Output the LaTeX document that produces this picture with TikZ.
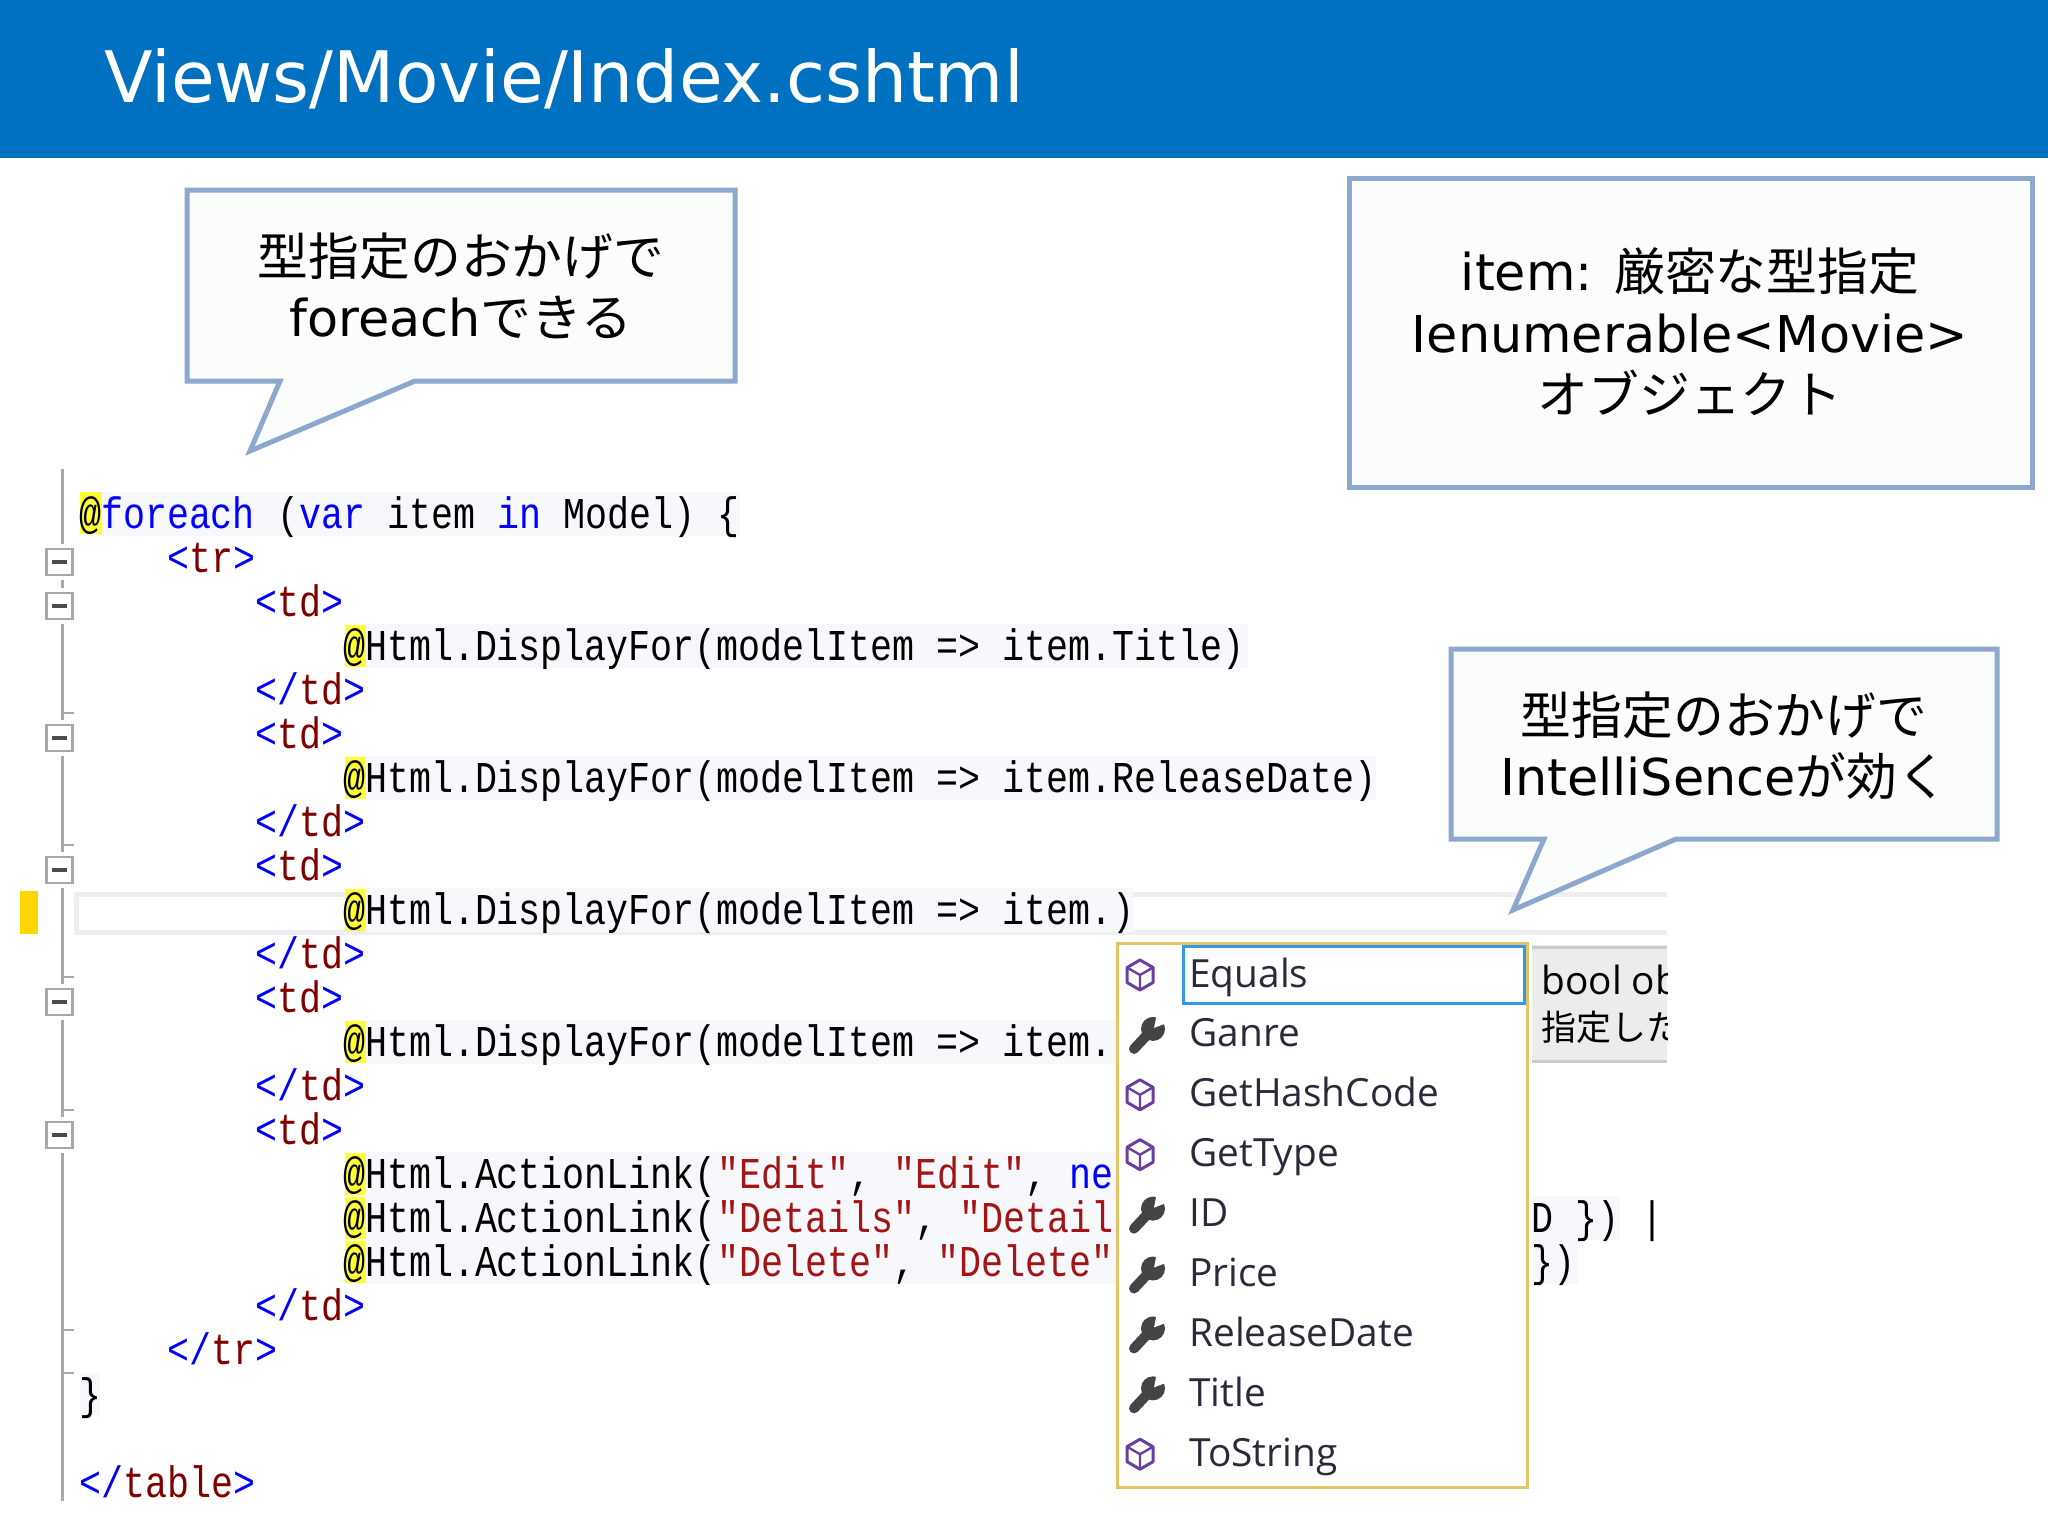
\documentclass[tikz,border=0pt]{standalone}
\usepackage{fontspec}
\usepackage{xcolor}
\setmainfont{DejaVu Sans}
\newfontfamily\cjk{Noto Sans CJK JP}
\newfontfamily\codefont[FakeStretch=0.8333]{Liberation Mono}
\newfontfamily\listfont{Open Sans}
\definecolor{barblue}{HTML}{0070C0}
\definecolor{calloutline}{HTML}{8CA8CE}
\definecolor{calloutfill}{HTML}{FBFDFD}
\definecolor{codeblue}{HTML}{0000FF}
\definecolor{tagred}{HTML}{800000}
\definecolor{strred}{HTML}{A31515}
\definecolor{linebg}{HTML}{F7F8FC}
\definecolor{curline}{HTML}{EDEDF2}
\definecolor{atyellow}{HTML}{FFFF33}
\definecolor{marker}{HTML}{FFD700}
\definecolor{gutter}{HTML}{A8A8A8}
\definecolor{popupline}{HTML}{E5C365}
\definecolor{selline}{HTML}{3399EE}
\definecolor{cubepurple}{HTML}{6B3FA0}
\definecolor{wrenchgray}{HTML}{444444}
\definecolor{listtext}{HTML}{2A2A3A}
\newcommand{\kw}[1]{\textcolor{codeblue}{#1}}
\newcommand{\tagname}[1]{\textcolor{tagred}{#1}}
\newcommand{\strlit}[1]{\textcolor{strred}{#1}}
\newcommand{\opentag}[1]{\kw{<}\tagname{#1}\kw{>}}
\newcommand{\closetag}[1]{\kw{</}\tagname{#1}\kw{>}}
% one line of code: line number, column, text
\newcommand{\codeline}[3]{\node[codetxt] (code#1) at ({78.6+22*#2},{528+44.05*#1}) {#3};}
\tikzset{
    callout/.style={draw=calloutline, fill=calloutfill, line width=2.5pt, line join=miter},
    callouttxt/.style={align=center, inner sep=0pt, font=\fontsize{25.4}{30.7}\selectfont},
    codetxt/.style={anchor=base west, inner sep=0pt, font=\codefont\fontsize{22}{26}\selectfont},
    listtxt/.style={anchor=base west, inner sep=0pt, text=listtext, font=\listfont\fontsize{19.4}{24}\selectfont},
    foldbox/.style={draw=gutter, fill=white, line width=1.25pt, minimum size=13pt, inner sep=0pt},
    foldgap/.style={fill=white, minimum size=18pt, inner sep=0pt},
    cubeicon/.pic={
        \draw[cubepurple, line width=1.5pt, line join=round] (30:15) -- (90:15) -- (150:15) -- (210:15) -- (270:15) -- (330:15) -- cycle;
        \draw[cubepurple, line width=1.2pt] (210:15) -- (0,0) -- (330:15) (0,0) -- (90:15);
    },
    wrenchicon/.pic={
        \draw[wrenchgray, line width=5pt, line cap=round] (-6,14) -- (9,-2);
        \fill[wrenchgray] (13,-6) circle (12);
        \fill[white] (14,-7) -- (17,-22) -- (30,-13) -- cycle;
    }
}
\begin{document}
\begin{tikzpicture}[x=0.5pt, y=-0.5pt]
    \useasboundingbox (0,0) rectangle (2048,1536);
    % title bar
    \fill[barblue] (0,0) rectangle (2048,158);
    \node[anchor=west, inner sep=0pt, text=white, font=\fontsize{35.5}{42}\selectfont] (title) at (104,79) {Views/Movie/Index.cshtml};

    % current line and highlights
    \fill[marker] (20,891) rectangle (38,934);
    \draw[curline, line width=2.5pt] (1667,894) -- (76,894) -- (76,932) -- (1667,932);
    \foreach \ln/\xa/\xb in {0/80/740, 3/366/1248, 6/366/1376, 9/366/1133, 12/366/1116, 15/366/1116, 16/366/1116, 17/366/1116, 16/1533/1620, 17/1533/1578, 20/80/100}
        \fill[linebg] (\xa,{513.5+44.05*\ln-22}) rectangle (\xb,{513.5+44.05*\ln+22});
    \fill[atyellow] (80,492) rectangle (102,534);
    \foreach \ln in {3,6,9,12,15,16,17}
        \fill[atyellow] (344.5,{513.5+44.05*\ln-21}) rectangle (366,{513.5+44.05*\ln+21});

    % gutter
    \coordinate (gutTop) at (62.7,469);
    \coordinate (gutBot) at (62.7,1501);
    \draw[gutter, line width=1.25pt] (gutTop) -- (gutBot);
    \foreach \ty in {713,845,977,1110,1330,1373}
        \draw[gutter, line width=1.25pt] (62.7,\ty) -- ++(11,0);
    \foreach \fy in {562,606,738,870,1002,1135} {
        \node[foldgap] (gap\fy) at (59.5,\fy) {};
        \node[foldbox] (fold\fy) at (59.5,\fy) {};
        \draw[black!70, line width=1.6pt] (52,\fy) -- (67,\fy);
    }

    % code
    \codeline{0}{0}{@\kw{foreach} (\kw{var} item \kw{in} Model) \{}
    \codeline{1}{4}{\opentag{tr}}
    \codeline{2}{8}{\opentag{td}}
    \codeline{3}{12}{@Html.DisplayFor(modelItem => item.Title)}
    \codeline{4}{8}{\closetag{td}}
    \codeline{5}{8}{\opentag{td}}
    \codeline{6}{12}{@Html.DisplayFor(modelItem => item.ReleaseDate)}
    \codeline{7}{8}{\closetag{td}}
    \codeline{8}{8}{\opentag{td}}
    \codeline{9}{12}{@Html.DisplayFor(modelItem => item.)}
    \codeline{10}{8}{\closetag{td}}
    \codeline{11}{8}{\opentag{td}}
    \codeline{12}{12}{@Html.DisplayFor(modelItem => item.}
    \codeline{13}{8}{\closetag{td}}
    \codeline{14}{8}{\opentag{td}}
    \codeline{15}{12}{@Html.ActionLink(\strlit{"Edit"}, \strlit{"Edit"}, \kw{ne}}
    \codeline{16}{12}{@Html.ActionLink(\strlit{"Details"}, \strlit{"Detail}}
    \codeline{17}{12}{@Html.ActionLink(\strlit{"Delete"}, \strlit{"Delete"}}
    \codeline{18}{8}{\closetag{td}}
    \codeline{19}{4}{\closetag{tr}}
    \codeline{20}{0}{\}}
    \codeline{22}{0}{\closetag{table}}
    \node[codetxt] (tail16) at (1531,{528+44.05*16}) {D \}) |};
    \node[codetxt] (tail17) at (1531,{528+44.05*17}) {\})};

    % callouts
    \draw[callout] (187,190) -- (735,190) -- (735,381) -- (415,381) -- (250,451) -- (280,381) -- (187,381) -- cycle;
    \node[callouttxt] (noteForeach) at (461,286) {{\cjk 型指定のおかげで}\\foreach{\cjk できる}};
    \draw[callout] (1349,178) rectangle (2032,487);
    \node[callouttxt] (noteItem) at (1690,332) {item: {\cjk 厳密な型指定}\\Ienumerable<Movie>\\{\cjk オブジェクト}};
    \draw[callout] (1451,649) -- (1997,649) -- (1997,839) -- (1676,839) -- (1513,910) -- (1544,839) -- (1451,839) -- cycle;
    \node[callouttxt] (noteSence) at (1724,746) {{\cjk 型指定のおかげで}\\IntelliSence{\cjk が効く}};

    % completion list
    \draw[popupline, fill=white, line width=1.5pt] (1117,943) rectangle (1527,1487);
    \draw[selline, line width=1.5pt] (1183,946) rectangle (1524,1003);
    \foreach \row/\word/\icon in {0/Equals/cubeicon, 1/Ganre/wrenchicon, 2/GetHashCode/cubeicon, 3/GetType/cubeicon, 4/ID/wrenchicon, 5/Price/wrenchicon, 6/ReleaseDate/wrenchicon, 7/Title/wrenchicon, 8/ToString/cubeicon} {
        \node[listtxt] (item\row) at (1189,{987+59.9*\row}) {\word};
        \pic at (1140,{975+59.9*\row}) {\icon};
    }

    % tooltip, cut off at the edge of the screenshot
    \begin{scope}
        \clip (1532,940) rectangle (1667,1070);
        \fill[gray!15] (1532,945) rectangle (1667,1063);
        \draw[gray!40, line width=1.5pt] (1532,947) -- (1667,947) (1532,1061) -- (1667,1061);
        \node[listtxt, text=black] (tipA) at (1541,994) {bool ob};
        \node[listtxt, text=black, font=\cjk\fontsize{17.5}{24}\selectfont] (tipB) at (1541,1040) {指定した};
    \end{scope}
\end{tikzpicture}
\end{document}
